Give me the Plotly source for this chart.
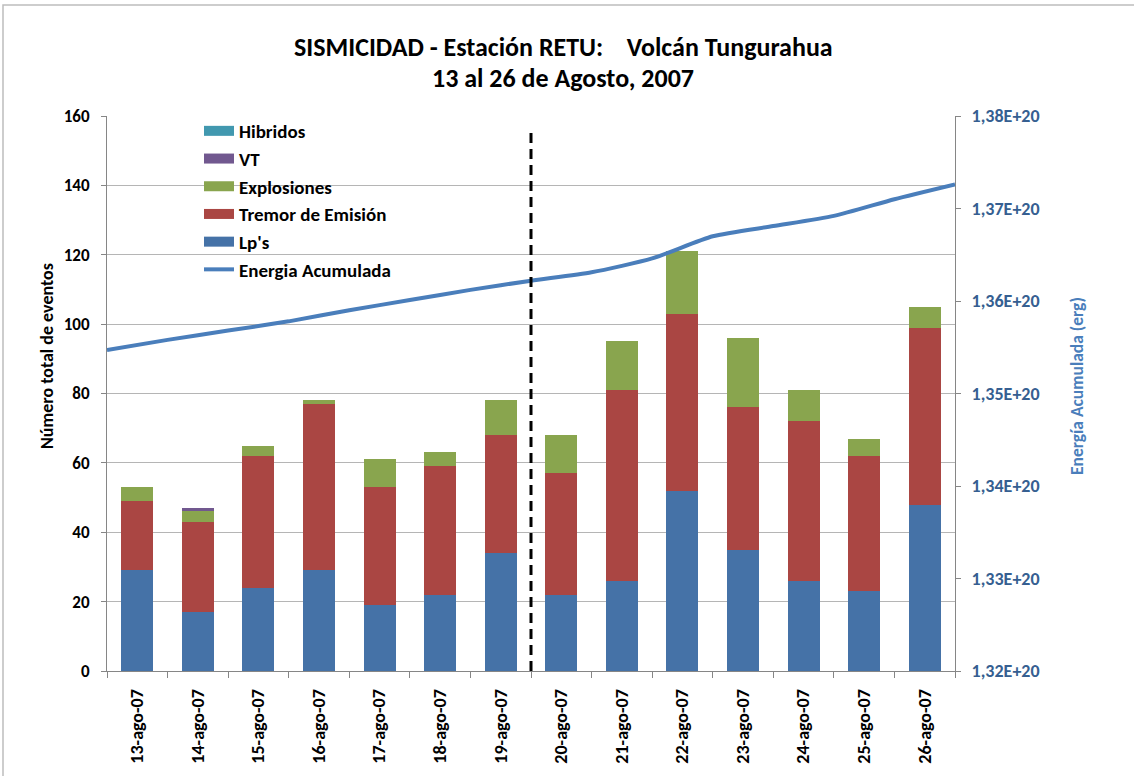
import plotly.graph_objects as go

# ---------------- data ----------------
categories = ["13-ago-07", "14-ago-07", "15-ago-07", "16-ago-07", "17-ago-07",
              "18-ago-07", "19-ago-07", "20-ago-07", "21-ago-07", "22-ago-07",
              "23-ago-07", "24-ago-07", "25-ago-07", "26-ago-07"]
lps = [29, 17, 24, 29, 19, 22, 34, 22, 26, 52, 35, 26, 23, 48]
tremor = [20, 26, 38, 48, 34, 37, 34, 35, 55, 51, 41, 46, 39, 51]
explosiones = [4, 3, 3, 1, 8, 4, 10, 11, 14, 18, 20, 9, 5, 6]
vt = [0, 1, 0, 0, 0, 0, 0, 0, 0, 0, 0, 0, 0, 0]
hibridos = [0, 0, 0, 0, 0, 0, 0, 0, 0, 0, 0, 0, 0, 0]

# cumulative energy (erg) read at day boundaries (0 = start of 13-ago, 14 = end of 26-ago)
energy_day = [0, 1, 2, 3, 4, 5, 6, 7, 8, 9, 10, 11, 12, 13, 14]
energy = [1.3547e20, 1.3558e20, 1.3568e20, 1.3578e20, 1.3590e20, 1.3601e20,
          1.3612e20, 1.3622e20, 1.3631e20, 1.3646e20, 1.3670e20, 1.3681e20,
          1.3692e20, 1.3710e20, 1.3726e20]

left_ticks = [0, 20, 40, 60, 80, 100, 120, 140, 160]
right_tickvals = [1.32e20, 1.33e20, 1.34e20, 1.35e20, 1.36e20, 1.37e20, 1.38e20]
right_ticktext = ["1,32E+20", "1,33E+20", "1,34E+20", "1,35E+20",
                  "1,36E+20", "1,37E+20", "1,38E+20"]

# ---------------- style ----------------
FONT = "Carlito, Calibri, Lato, sans-serif"
C_LP = "#4572A7"
C_TR = "#AA4643"
C_EX = "#89A54E"
C_VT = "#71588F"
C_HI = "#4198AF"
C_EN = "#4A7EBB"
GRID = "#B5B5B5"
AXIS = "#868686"

W, H = 1134, 776
PL, PR, PT, PB = 107, 955, 116, 671   # plot area edges in pixels
PW, PH = PR - PL, PB - PT


def px(xp):
    return (xp - PL) / PW


def py(yp):
    return (PB - yp) / PH


fig = go.Figure()

bar_series = [("Lp's", lps, C_LP), ("Tremor de Emisión", tremor, C_TR),
              ("Explosiones", explosiones, C_EX), ("VT", vt, C_VT),
              ("Hibridos", hibridos, C_HI)]
for name, vals, col in bar_series:
    fig.add_trace(go.Bar(x=categories, y=vals, name=name, marker_color=col,
                         marker_line_width=0, showlegend=False,
                         hoverinfo="x+y+name"))

fig.add_trace(go.Scatter(x=energy_day, y=energy, xaxis="x2", yaxis="y2",
                         mode="lines", line=dict(color=C_EN, width=4,
                                                 shape="spline", smoothing=0.6),
                         name="Energia Acumulada", showlegend=False))

# legend entries (drawn as wide swatches like the original)
legend_items = [("Hibridos", C_HI, 10), ("VT", C_VT, 10), ("Explosiones", C_EX, 10),
                ("Tremor de Emisión", C_TR, 10), ("Lp's", C_LP, 10),
                ("Energia Acumulada", C_EN, 4)]
for i, (name, col, w) in enumerate(legend_items):
    fig.add_trace(go.Scatter(x=[None], y=[None], mode="lines",
                             line=dict(color=col, width=w), name=name,
                             legendgroup=f"g{i}", showlegend=True,
                             xaxis="x2", yaxis="y2"))

fig.update_layout(
    width=W, height=H,
    margin=dict(l=PL, r=W - PR, t=PT, b=H - PB),
    paper_bgcolor="white", plot_bgcolor="white",
    barmode="stack", bargap=0.47,
    font=dict(family=FONT, size=17, color="black"),
    showlegend=True,
    legend=dict(x=px(199), xanchor="left", y=py(112), yanchor="top",
                bgcolor="rgba(0,0,0,0)", borderwidth=0,
                font=dict(family=FONT, size=19, color="black", weight="bold"),
                tracegroupgap=0, traceorder="grouped", itemwidth=30),
    xaxis=dict(type="category", tickson="boundaries", ticks="outside", ticklen=6,
               tickcolor=AXIS, showline=True, linecolor=AXIS, linewidth=1,
               showgrid=False, tickangle=-90, ticklabelstandoff=10,
               tickfont=dict(family=FONT, size=18, color="black", weight="bold")),
    yaxis=dict(range=[0, 160], tickvals=left_ticks, ticks="outside", ticklen=5,
               tickcolor=AXIS, showline=True, linecolor=AXIS, linewidth=1,
               showgrid=True, gridcolor=GRID, gridwidth=1, zeroline=False,
               ticklabelstandoff=8,
               tickfont=dict(family=FONT, size=17, color="black", weight="bold")),
    xaxis2=dict(overlaying="x", range=[0, 14], visible=False, anchor="y2"),
    yaxis2=dict(overlaying="y", side="right", range=[1.32e20, 1.38e20],
                tickvals=right_tickvals, ticktext=right_ticktext,
                ticks="outside", ticklen=5, tickcolor=AXIS, showline=True,
                linecolor=AXIS, linewidth=1, showgrid=False, zeroline=False,
                ticklabelstandoff=7,
                tickfont=dict(family=FONT, size=18, color="#365F91", weight="bold")),
)

# white legend backdrop covering the gridlines
fig.add_shape(type="rect", xref="paper", yref="paper",
              x0=px(137), x1=px(445), y0=py(281), y1=py(118),
              fillcolor="white", line_width=0, layer="between")

# dashed separator between 19-ago and 20-ago
fig.add_shape(type="line", xref="x", yref="y", x0=6.5, x1=6.5, y0=0, y1=156,
              line=dict(color="black", width=3, dash="10px,6px"), layer="above")

# outer chart border
fig.add_shape(type="rect", xref="paper", yref="paper",
              x0=px(3), x1=px(1140), y0=py(790), y1=py(5),
              line=dict(color="#BDBDBD", width=1.5), fillcolor="rgba(0,0,0,0)")

# titles
fig.add_annotation(text="SISMICIDAD - Estación RETU:    Volcán Tungurahua",
                   xref="paper", yref="paper", x=px(563), y=py(47),
                   showarrow=False, xanchor="center", yanchor="middle",
                   font=dict(family=FONT, size=26, color="black", weight="bold"))
fig.add_annotation(text="13 al 26 de Agosto, 2007",
                   xref="paper", yref="paper", x=px(563), y=py(78),
                   showarrow=False, xanchor="center", yanchor="middle",
                   font=dict(family=FONT, size=26, color="black", weight="bold"))
fig.add_annotation(text="Número total de eventos", xref="paper", yref="paper",
                   x=px(47), y=py(356), textangle=-90,
                   showarrow=False, xanchor="center", yanchor="middle",
                   font=dict(family=FONT, size=18, color="black", weight="bold"))
fig.add_annotation(text="Energía Acumulada (erg)", xref="paper", yref="paper",
                   x=px(1077), y=py(386), textangle=-90,
                   showarrow=False, xanchor="center", yanchor="middle",
                   font=dict(family=FONT, size=17.5, color=C_EN, weight="bold"))

fig.write_html("out.html", config={"displayModeBar": False},
               post_script="document.body.style.margin='0';"
                           "document.body.style.overflow='hidden';")
